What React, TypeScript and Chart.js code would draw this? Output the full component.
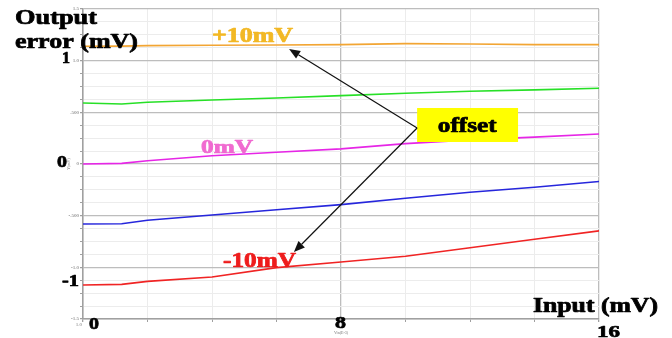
import React, { useEffect, useRef } from "react";
import { Chart, registerables } from "chart.js";

Chart.register(...registerables);

// ---- data ----
const inputMv = [0, 1.2, 2, 4, 6, 8, 10, 12, 14, 16];
const plus10 = [1.139, 1.141, 1.146, 1.149, 1.152, 1.155, 1.165, 1.162, 1.155, 1.155];
const plus5 = [0.591, 0.581, 0.597, 0.62, 0.639, 0.662, 0.684, 0.704, 0.717, 0.733];
const zero = [0, 0.006, 0.032, 0.08, 0.113, 0.146, 0.197, 0.233, 0.26, 0.29];
const minus5 = [-0.581, -0.578, -0.545, -0.494, -0.442, -0.393, -0.332, -0.273, -0.225, -0.17];
const minus10 = [-1.171, -1.165, -1.136, -1.094, -1.003, -0.948, -0.893, -0.81, -0.728, -0.647];

const seriesColors = ["#f2a533", "#27e027", "#e626e6", "#2626dc", "#f02424"];
const seriesValues = [plus10, plus5, zero, minus5, minus10];
const seriesNames = ["+10mV", "+5mV", "0mV", "-5mV", "-10mV"];

const yTickLabels: Record<string, string> = {
  "1.5": "1.5",
  "1": "1.0",
  "0.5": ".500",
  "0": "0",
  "-0.5": "-.500",
  "-1": "-1.0",
  "-1.5": "-1.5",
};
const bigYTicks = ["1", "0", "-1"];
const bigXTicks = ["0", "8", "16"];

const SERIF = '"Liberation Serif", "Times New Roman", "DejaVu Serif", serif';

function drawStretched(
  ctx: CanvasRenderingContext2D,
  s: string,
  x: number,
  y: number,
  size: number,
  color: string,
  width?: number
) {
  ctx.save();
  ctx.font = `bold ${size}px ${SERIF}`;
  ctx.fillStyle = color;
  ctx.strokeStyle = color;
  ctx.lineWidth = 0.7;
  ctx.lineJoin = "round";
  ctx.textAlign = "left";
  ctx.textBaseline = "alphabetic";
  const w = ctx.measureText(s).width;
  const sx = width ? width / w : 1;
  ctx.translate(x, y);
  ctx.scale(sx, 1);
  ctx.fillText(s, 0, 0);
  ctx.strokeText(s, 0, 0);
  ctx.restore();
}

function arrow(ctx: CanvasRenderingContext2D, x1: number, y1: number, x2: number, y2: number) {
  ctx.save();
  ctx.strokeStyle = "#111";
  ctx.fillStyle = "#111";
  ctx.lineWidth = 1.2;
  const ang = Math.atan2(y2 - y1, x2 - x1);
  const L = 11;
  const W = 4.5;
  const bx = x2 - L * Math.cos(ang);
  const by = y2 - L * Math.sin(ang);
  ctx.beginPath();
  ctx.moveTo(x1, y1);
  ctx.lineTo(bx, by);
  ctx.stroke();
  ctx.beginPath();
  ctx.moveTo(x2, y2);
  ctx.lineTo(bx + W * Math.sin(ang), by - W * Math.cos(ang));
  ctx.lineTo(bx - W * Math.sin(ang), by + W * Math.cos(ang));
  ctx.closePath();
  ctx.fill();
  ctx.restore();
}

const isMult = (v: number, m: number) => Math.abs(v / m - Math.round(v / m)) < 1e-6;

const decorPlugin = {
  id: "decor",
  beforeDraw(chart: any) {
    const ctx = chart.ctx;
    ctx.save();
    ctx.fillStyle = "#ffffff";
    ctx.fillRect(0, 0, chart.width, chart.height);
    ctx.restore();
  },
  afterDraw(chart: any) {
    const ctx: CanvasRenderingContext2D = chart.ctx;
    const xs = chart.scales.x;
    const ys = chart.scales.y;
    const px = (v: number) => xs.getPixelForValue(v);
    const py = (v: number) => ys.getPixelForValue(v);
    const area = chart.chartArea;

    // axis titles
    drawStretched(ctx, "Output", 15, 24, 21, "#000", 82);
    drawStretched(ctx, "error (mV)", 15, 48, 21, "#000", 123);
    drawStretched(ctx, "Input (mV)", 533, 312, 20, "#000", 125);

    // big tick labels
    drawStretched(ctx, bigYTicks[0], area.left - 21, py(1) + 2, 17, "#000", 8);
    drawStretched(ctx, bigYTicks[1], area.left - 26, py(0) + 3, 17, "#000", 10);
    drawStretched(ctx, bigYTicks[2], area.left - 21, py(-1) + 19, 17, "#000", 17);
    drawStretched(ctx, bigXTicks[0], px(0) + 6, area.bottom + 10, 17, "#000", 10);
    drawStretched(ctx, bigXTicks[1], px(8) - 6, area.bottom + 9, 17, "#000", 11);
    drawStretched(ctx, bigXTicks[2], px(16) - 2, area.bottom + 18, 17, "#000", 23);

    // tiny labels
    ctx.save();
    ctx.fillStyle = "#777";
    ctx.font = `5px ${SERIF}`;
    ctx.textAlign = "right";
    ctx.textBaseline = "middle";
    ctx.fillText("1.0", area.left - 1, area.bottom + 6);
    ctx.textAlign = "center";
    ctx.font = `4px ${SERIF}`;
    ctx.fillText("Vin(E-3)", px(8), area.bottom + 14);
    ctx.translate(area.left - 14, py(0));
    ctx.rotate(-Math.PI / 2);
    ctx.fillText("Y(mV)", 0, 0);
    ctx.restore();

    // series labels
    drawStretched(ctx, seriesNames[0], px(4.0), py(1.181), 20, "#f2b824", 81);
    drawStretched(ctx, seriesNames[2], px(3.66), py(0.106), 18, "#f06ad0", 52);
    drawStretched(ctx, seriesNames[4], px(4.34), py(-0.997), 20, "#ee1c1c", 73);

    // offset box & arrows
    const bx1 = px(10.36), bx2 = px(13.49), by1 = py(0.542), by2 = py(0.213);
    ctx.save();
    ctx.fillStyle = "#ffff00";
    ctx.fillRect(bx1, by1, bx2 - bx1, by2 - by1);
    ctx.restore();
    drawStretched(ctx, "offset", px(11.0), py(0.31), 20, "#000", 59);
    const sx = px(10.36), sy = py(0.348);
    arrow(ctx, sx, sy, px(6.39), py(1.113));
    arrow(ctx, sx, sy, px(6.54), py(-0.852));
  },
};

export default function App() {
  const ref = useRef<HTMLCanvasElement | null>(null);

  useEffect(() => {
    if (!ref.current) return;
    const datasets = seriesValues.map((vals, i) => ({
      label: seriesNames[i],
      data: inputMv.map((x, j) => ({ x, y: vals[j] })),
      borderColor: seriesColors[i],
      backgroundColor: seriesColors[i],
      borderWidth: 1.6,
      pointRadius: 0,
      tension: 0,
      fill: false,
    }));
    const chart = new Chart(ref.current, {
      type: "line",
      data: { datasets },
      options: {
        animation: false,
        responsive: false,
        layout: { padding: { left: 0, top: 9, right: 73, bottom: 0 } },
        plugins: { legend: { display: false }, tooltip: { enabled: false } },
        scales: {
          x: {
            type: "linear",
            min: 0,
            max: 16,
            ticks: { stepSize: 2, display: false },
            grid: {
              color: (c: any) => (isMult(c.tick?.value ?? 0, 8) ? "#bdbdbd" : "#ececec"),
              tickColor: "#a0a0a0",
              tickLength: 3,
              lineWidth: (c: any) => (isMult(c.tick?.value ?? 0, 8) ? 1.3 : 1),
            },
            border: { color: "#a0a0a0", width: 1.5 },
            afterFit: (s: any) => {
              s.height = 19;
            },
          },
          y: {
            type: "linear",
            min: -1.5,
            max: 1.5,
            ticks: {
              stepSize: 0.125,
              autoSkip: false,
              padding: 1,
              color: "#666",
              font: { size: 5, family: SERIF },
              callback: (v: any) => {
                const n = Number(v);
                if (!isMult(n, 0.5)) return "";
                return yTickLabels[String(Math.round(n * 2) / 2)] ?? "";
              },
            },
            grid: {
              color: (c: any) => (isMult(c.tick?.value ?? 0, 0.5) ? "#bdbdbd" : "#ececec"),
              tickColor: "#a0a0a0",
              tickLength: 3,
              lineWidth: (c: any) => (isMult(c.tick?.value ?? 0, 0.5) ? 1.3 : 1),
            },
            border: { color: "#a0a0a0", width: 1.5 },
            afterFit: (s: any) => {
              s.width = 83;
            },
          },
        },
      },
      plugins: [decorPlugin],
    });
    return () => chart.destroy();
  }, []);

  return (
    <div style={{ position: "fixed", left: 0, top: 0, width: 672, height: 338, background: "#fff" }}>
      <canvas ref={ref} width={672} height={338} style={{ display: "block" }} />
    </div>
  );
}
